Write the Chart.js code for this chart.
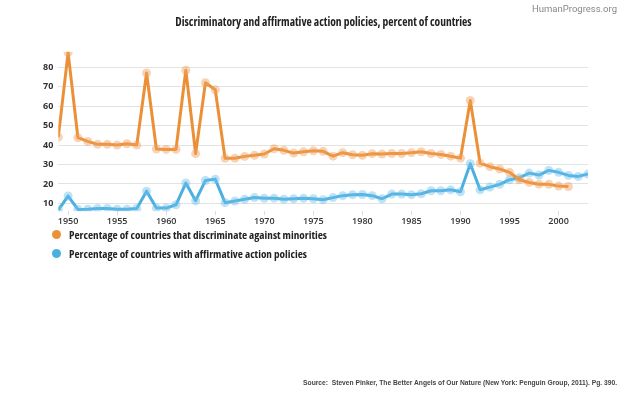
<!DOCTYPE html>
<html>
<head>
<meta charset="utf-8">
<script src="https://cdn.jsdelivr.net/npm/chart.js@4/dist/chart.umd.min.js"></script>
<style>
  body { margin: 0; background: #fff; }
  #wrap { position: relative; width: 640px; height: 396px; }
  #brand { position: absolute; right: 23px; top: 3px; font: 9.5px Roboto, sans-serif; color: #888; }
  #legend { position: absolute; left: 52px; top: 225px; font-family: "Open Sans", sans-serif; font-weight: bold; font-size: 11.2px; font-stretch: condensed; color: #222; }
  .item { height: 19px; line-height: 14px; display: flex; align-items: center; }
  .dot { width: 9px; height: 9px; border-radius: 50%; margin-right: 8px; }
  #source { position: absolute; right: 23px; top: 379px; font: bold 6.7px "Liberation Sans", Arial, sans-serif; color: #444; }
</style>
</head>
<body>
<div id="wrap">
  <canvas id="chart"></canvas>
  <div id="brand">HumanProgress.org</div>
  <div id="legend"></div>
  <div id="source">Source:&nbsp; Steven Pinker, The Better Angels of Our Nature (New York: Penguin Group, 2011). Pg. 390.</div>
</div>
<script>
const years = [
  1949, 1950, 1951, 1952, 1953, 1954, 1955, 1956, 1957, 1958,
  1959, 1960, 1961, 1962, 1963, 1964, 1965, 1966, 1967, 1968,
  1969, 1970, 1971, 1972, 1973, 1974, 1975, 1976, 1977, 1978,
  1979, 1980, 1981, 1982, 1983, 1984, 1985, 1986, 1987, 1988,
  1989, 1990, 1991, 1992, 1993, 1994, 1995, 1996, 1997, 1998,
  1999, 2000, 2001, 2002, 2003
];

// discriminate against minorities (ends 2001)
const discriminate = [
  44.1, 87.6, 43.8, 41.9, 40.4, 40.4, 40.0, 40.7, 40.0, 77.1,
  38.0, 37.8, 37.8, 78.5, 35.6, 72.1, 68.5, 33.2, 33.2, 34.2,
  34.8, 35.4, 38.1, 37.3, 35.9, 36.6, 37.1, 36.8, 34.3, 36.1,
  35.0, 34.8, 35.6, 35.4, 35.7, 35.7, 36.1, 36.6, 35.7, 35.2,
  34.3, 33.3, 63.0, 30.7, 28.9, 27.7, 26.0, 22.2, 20.8, 19.9,
  19.8, 18.9, 18.7, null, null
];

// affirmative action policies
const affirmative = [
  6.6, 13.8, 6.9, 7.0, 7.4, 7.4, 7.0, 7.0, 7.4, 16.3,
  7.6, 7.6, 9.3, 20.5, 11.4, 21.8, 22.5, 10.4, 11.2, 12.1,
  13.0, 12.6, 12.7, 12.2, 12.4, 12.6, 12.4, 11.9, 13.0, 14.0,
  14.5, 14.6, 14.0, 12.4, 14.8, 14.8, 14.5, 15.0, 16.5, 16.5,
  17.0, 16.0, 30.4, 17.0, 18.4, 19.8, 22.2, 23.2, 25.6, 24.6,
  27.0, 26.0, 24.4, 23.9, 25.1
];

const seriesNames = [
  "Percentage of countries that discriminate against minorities",
  "Percentage of countries with affirmative action policies"
];
const xTicks = [1950, 1955, 1960, 1965, 1970, 1975, 1980, 1985, 1990, 1995, 2000];
const yGrid = [10, 15, 20, 25, 30, 35, 40, 45, 50, 55, 60, 65, 70, 75, 80, 85];

const orange = "#EC9038";
const blue = "#4BB0E0";

function toPoints(vals) {
  return years.map((y, i) => ({ x: y, y: vals[i] }));
}

function line(label, vals, color, fill) {
  return {
    label: label,
    data: toPoints(vals),
    borderColor: color,
    backgroundColor: color,
    borderWidth: 3,
    borderJoinStyle: "round",
    pointRadius: 4.5,
    pointBackgroundColor: fill,
    pointBorderWidth: 0,
    pointHoverRadius: 4.5,
    tension: 0
  };
}

// the title sits centred on the page, not on the padded layout box
const centreTitle = {
  id: "centreTitle",
  afterLayout(c) {
    const t = c.titleBlock;
    if (t) { t.left += 10.5; t.right += 10.5; }
  }
};

const chart = new Chart(document.getElementById("chart"), {
  type: "line",
  data: {
    datasets: [
      line(seriesNames[0], discriminate, orange, "rgba(240,160,90,0.45)"),
      line(seriesNames[1], affirmative, blue, "rgba(110,190,235,0.45)")
    ]
  },
  plugins: [centreTitle],
  options: {
    responsive: true,
    maintainAspectRatio: false,
    animation: false,
    layout: { padding: { left: 38, right: 52, top: 0, bottom: 168 } },
    plugins: {
      legend: { display: false },
      tooltip: { enabled: false },
      title: {
        display: true,
        text: "Discriminatory and affirmative action policies, percent of countries",
        color: "#222",
        font: { family: "'Open Sans'", weight: "bold condensed", size: 11.5 },
        padding: { top: 16, bottom: 22 }
      }
    },
    scales: {
      x: {
        type: "linear",
        min: 1949,
        max: 2003,
        afterBuildTicks: axis => { axis.ticks = xTicks.map(v => ({ value: v })); },
        ticks: {
          callback: v => String(v),
          color: "#333",
          padding: 1,
          maxRotation: 0,
          font: { family: "'Open Sans'", weight: "600", size: 9 }
        },
        grid: { drawOnChartArea: false, drawTicks: true, tickLength: 4, color: "#ddd" },
        border: { display: false }
      },
      y: {
        min: 6,
        max: 88,
        afterBuildTicks: axis => { axis.ticks = yGrid.map(v => ({ value: v })); },
        ticks: {
          callback: v => (v % 10 === 0 ? String(v) : ""),
          color: "#333",
          padding: 5,
          font: { family: "'Open Sans'", weight: "bold", size: 9 }
        },
        grid: {
          drawTicks: false,
          color: c => (c.tick && c.tick.value % 10 === 0 ? "#e2e2e2" : "#f3f3f3")
        },
        border: { display: false }
      }
    }
  }
});

// legend stacked under the axis, one series per line
const legendEl = document.getElementById("legend");
[orange, blue].forEach((c, i) => {
  const row = document.createElement("div");
  row.className = "item";
  row.innerHTML = `<span class="dot" style="background:${c}"></span><span>${seriesNames[i]}</span>`;
  legendEl.appendChild(row);
});
</script>
</body>
</html>
